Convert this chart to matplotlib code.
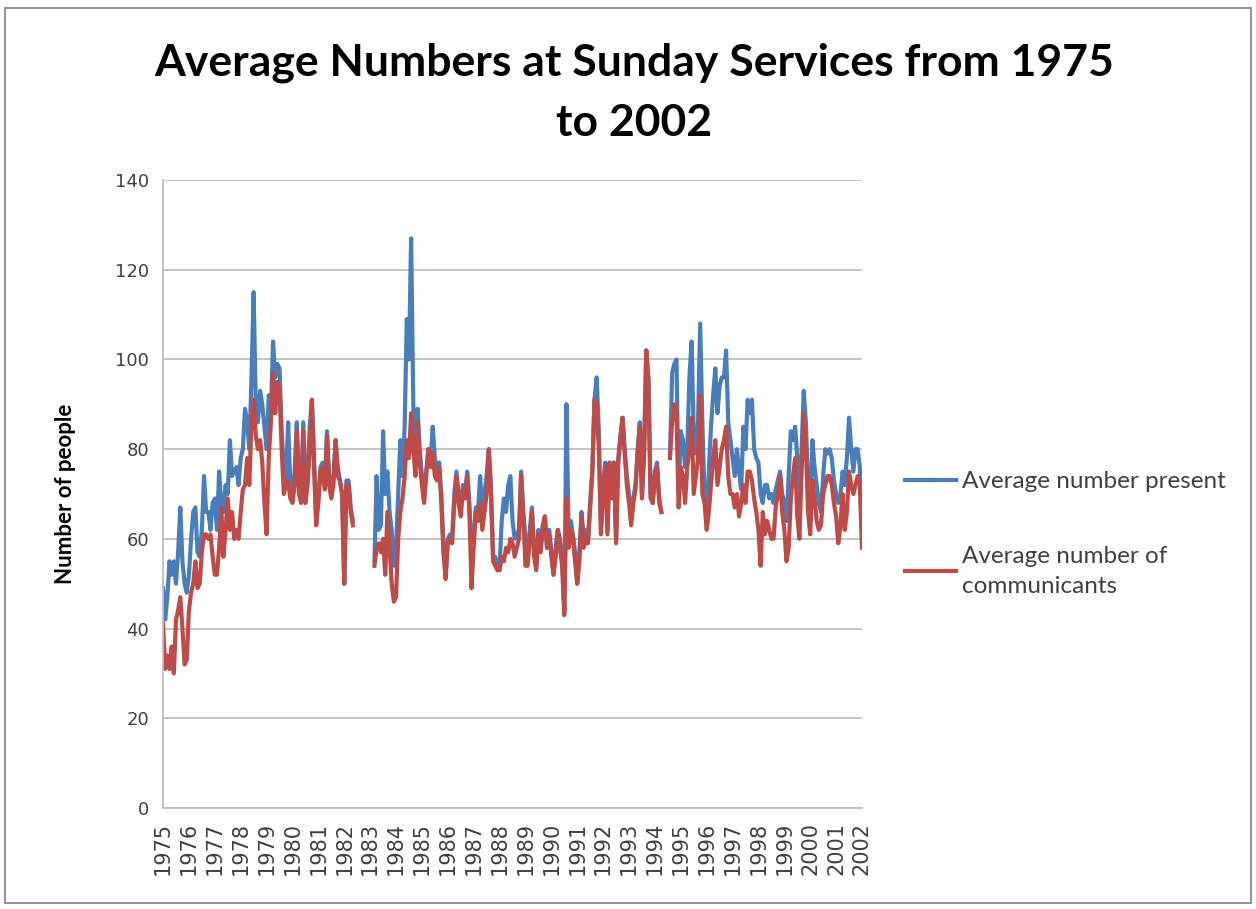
import numpy as np
import matplotlib.pyplot as plt
from matplotlib.patches import Rectangle

nan = np.nan

# monthly averages, Jan 1975 .. Jan 2002 (gaps where no data was recorded)
present = (
    [49, 42, 47, 55, 52, 55, 50, 57, 67, 55, 50, 48]      # 1975
    + [52, 60, 66, 67, 57, 56, 62, 74, 66, 66, 62, 68]    # 1976
    + [69, 62, 75, 68, 66, 72, 70, 82, 74, 75, 76, 72]    # 1977
    + [78, 80, 89, 86, 80, 96, 115, 90, 86, 93, 90, 85]   # 1978
    + [80, 92, 88, 104, 96, 99, 98, 84, 75, 73, 86, 72]   # 1979
    + [70, 75, 86, 72, 70, 86, 70, 74, 85, 91, 78, 64]    # 1980
    + [70, 76, 77, 72, 84, 74, 70, 74, 82, 76, 73, 70]    # 1981
    + [50, 73, 73, 67, 64] + [nan] * 9                    # 1982 - early 1983
    + [55, 74, 62, 63, 84, 70, 75, 66, 62, 54]            # 1983
    + [58, 70, 82, 74, 85, 109, 100, 127, 90, 78, 89, 80] # 1984
    + [74, 69, 75, 80, 77, 85, 78, 74, 77, 70, 58, 52]    # 1985
    + [60, 61, 60, 70, 75, 70, 66, 72, 70, 75, 68, 58]    # 1986
    + [60, 67, 66, 74, 65, 70, 74, 80, 72, 56, 56, 54]    # 1987
    + [54, 64, 69, 66, 72, 74, 64, 60, 61, 62, 75, 66]    # 1988
    + [60, 56, 62, 67, 58, 54, 62, 58, 63, 65, 58, 62]    # 1989
    + [57, 52, 58, 62, 60, 56, 44, 90, 62, 64, 61, 57]    # 1990
    + [50, 57, 66, 60, 62, 60, 68, 75, 91, 96, 84, 62]    # 1991
    + [72, 77, 62, 77, 70, 77, 60, 78, 83, 87, 80, 74]    # 1992
    + [70, 64, 69, 72, 80, 86, 70, 80, 102, 96, 70, 68]   # 1993
    + [75, 77, 69, 66, nan, nan, nan, 79]                 # 1994 (part)
    + [97, 99, 100, 70, 84, 82, 76, 80, 96, 104, 84, 79]
    + [86, 108, 86, 70, 64, 75, 85, 92, 98, 88, 94, 96]
    + [96, 102, 86, 82, 78, 74, 80, 75, 71, 85, 80, 91]
    + [88, 91, 80, 78, 77, 70, 68, 72, 72, 69, 70, 68]    # 1998
    + [71, 73, 75, 70, 68, 64, 74, 84, 82, 85, 78, 68]    # 1999
    + [80, 93, 86, 72, 64, 82, 76, 72, 68, 66, 74, 80]    # 2000
    + [79, 80, 78, 73, 70, 68, 70, 75, 72, 78, 87, 80]    # 2001
    + [75, 80, 80, 76, 60]                                # 2002
)

communicants = (
    [41, 31, 34, 31, 36, 30, 42, 44, 47, 40, 32, 33]
    + [44, 48, 50, 55, 49, 50, 57, 61, 61, 60, 61, 56]
    + [52, 52, 58, 67, 56, 62, 69, 62, 66, 60, 62, 60]
    + [66, 71, 72, 78, 72, 86, 91, 83, 80, 82, 77, 68]
    + [61, 78, 86, 97, 88, 95, 93, 80, 70, 72, 73, 69]
    + [68, 72, 84, 70, 68, 84, 68, 72, 80, 91, 76, 63]
    + [68, 75, 76, 71, 83, 72, 69, 72, 82, 74, 73, 70]
    + [50, 72, 72, 66, 63] + [nan] * 9
    + [54, 58, 59, 57, 60, 52, 66, 58, 50, 46]
    + [47, 60, 66, 69, 74, 82, 78, 88, 80, 74, 86, 77]
    + [72, 68, 74, 80, 76, 79, 74, 73, 76, 68, 57, 51]
    + [59, 60, 59, 68, 74, 68, 65, 71, 69, 74, 66, 49]
    + [58, 66, 64, 68, 62, 66, 70, 80, 70, 55, 54, 53]
    + [53, 56, 55, 58, 57, 60, 59, 56, 58, 60, 74, 65]
    + [54, 54, 60, 66, 56, 53, 61, 57, 62, 65, 58, 61]
    + [56, 52, 56, 62, 58, 54, 43, 69, 58, 62, 60, 55]
    + [50, 55, 65, 58, 60, 59, 67, 75, 91, 90, 80, 61]
    + [71, 76, 61, 77, 69, 77, 59, 77, 82, 87, 79, 72]
    + [68, 63, 68, 71, 79, 85, 69, 79, 102, 95, 69, 68]
    + [74, 76, 68, 66, nan, nan, nan, 78]
    + [86, 90, 88, 67, 76, 74, 68, 76, 80, 87, 70, 74]
    + [78, 92, 70, 68, 62, 66, 72, 78, 82, 72, 76, 80]
    + [82, 85, 74, 70, 70, 67, 70, 65, 68, 72, 68, 75]
    + [75, 73, 69, 66, 62, 54, 66, 61, 64, 62, 60, 60]
    + [67, 70, 74, 66, 62, 55, 58, 69, 74, 78, 65, 60]
    + [75, 88, 80, 66, 61, 73, 69, 64, 62, 63, 70, 72]
    + [74, 74, 72, 68, 65, 59, 63, 70, 62, 66, 75, 72]
    + [70, 72, 74, 72, 58]
)

years = [str(y) for y in range(1975, 2003)]

blue = '#4a7ebb'
red = '#be4b48'
grid = '#bfbfbf'
txt = '#404040'

fig = plt.figure(figsize=(12.56, 9.09), dpi=100)
ax = fig.add_axes([0.1298, 0.1111, 0.5565, 0.6909])

months = np.arange(len(present))
ax.plot(months, present, color=blue, lw=3, label='Average number present')
ax.plot(months, communicants, color=red, lw=3, label='Average number of\ncommunicants')

ax.set_xlim(0, len(present) - 1)
ax.set_ylim(0, 140)
ax.set_yticks(range(0, 141, 20))
ax.set_xticks(np.arange(0, len(present), 12))
ax.set_xticklabels(years, rotation=90)
ax.tick_params(axis='both', length=0, colors=txt, labelsize=13, pad=10)
ax.tick_params(axis='x', labelsize=15, pad=10)
ax.grid(axis='y', color=grid, lw=1.3)
ax.set_axisbelow(True)
for s in ['top', 'right']:
    ax.spines[s].set_visible(False)
for s in ['left', 'bottom']:
    ax.spines[s].set_color(grid)
    ax.spines[s].set_linewidth(1.3)

ax.set_ylabel('Number of people', fontsize=16, fontweight='bold', family='Lato', labelpad=28)

fig.suptitle('Average Numbers at Sunday Services from 1975\nto 2002', x=0.505, y=0.953,
             fontsize=32, fontweight='bold', family='Lato', linespacing=1.6)

leg = ax.legend(loc='center left', bbox_to_anchor=(1.061, 0.436), frameon=False,
                prop={'family': 'Lato', 'size': 17.5}, handlelength=2.1, labelspacing=2.2,
                handletextpad=0.25, borderpad=0, borderaxespad=0)
for t in leg.get_texts():
    t.set_color(txt)
    t.set_linespacing(1.55)

fig.add_artist(Rectangle((0.004, 0.007), 0.992, 0.984, transform=fig.transFigure,
                         fill=False, edgecolor='#808080', lw=1.2))

fig.savefig('out.png', dpi=100)
